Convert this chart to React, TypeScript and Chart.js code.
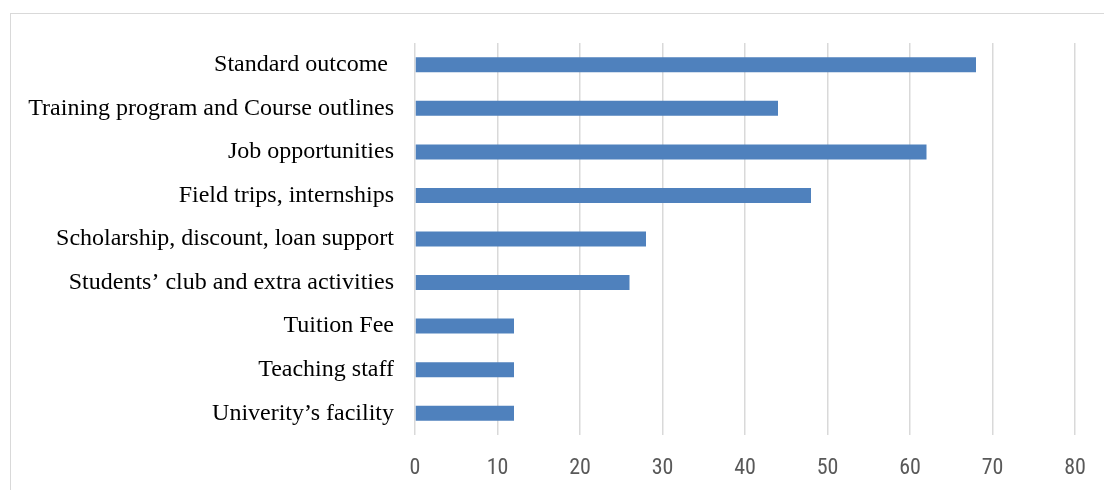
import React, { useEffect, useRef } from "react";
import { Chart, registerables } from "chart.js";

Chart.register(...registerables);

const categories = [
  "Standard outcome ",
  "Training program and Course outlines",
  "Job opportunities",
  "Field trips, internships",
  "Scholarship, discount, loan support",
  "Students’ club and extra activities",
  "Tuition Fee",
  "Teaching staff",
  "Univerity’s facility",
];
const values = [68, 44, 62, 48, 28, 26, 12, 12, 12];
const xMin = 0;
const xMax = 80;
const xStep = 10;

export default function App() {
  const ref = useRef<HTMLCanvasElement | null>(null);
  useEffect(() => {
    if (!ref.current) return;
    const chart = new Chart(ref.current, {
      type: "bar",
      data: {
        labels: categories,
        datasets: [
          {
            data: values,
            backgroundColor: "#4F81BD",
            borderWidth: 0,
            barPercentage: 0.69,
            categoryPercentage: 0.5,
          },
        ],
      },
      options: {
        indexAxis: "y",
        animation: false,
        responsive: false,
        maintainAspectRatio: false,
        layout: { padding: { left: 0, top: 43, right: 29, bottom: 0 } },
        plugins: { legend: { display: false }, tooltip: { enabled: false } },
        scales: {
          x: {
            min: xMin,
            max: xMax,
            ticks: {
              stepSize: xStep,
              color: "#595959",
              padding: 20,
              font: { family: "'Liberation Sans Narrow', 'Roboto Condensed', Roboto, sans-serif", size: 22 },
            },
            grid: { color: "#D9D9D9", lineWidth: 1.5, drawTicks: false },
            border: { display: false },
            afterFit: (s: any) => {
              s.height = 55;
              s.paddingLeft = 0;
              s.paddingRight = 0;
            },
          },
          y: {
            ticks: {
              color: "#000000",
              padding: 21,
              font: { family: "'Liberation Serif', 'Times New Roman', serif", size: 24 },
            },
            grid: { display: false, drawTicks: false },
            border: { display: false },
            afterFit: (s: any) => {
              s.width = 415;
            },
          },
        },
      },
    });
    return () => chart.destroy();
  }, []);
  return (
    <div style={{ position: "fixed", left: 0, top: 0, width: 1104, height: 490, background: "#fff" }}>
      <div
        style={{
          position: "absolute",
          left: 10,
          top: 13,
          width: 1110,
          height: 490,
          borderLeft: "1.5px solid #D9D9D9",
          borderTop: "1.5px solid #D9D9D9",
        }}
      />
      <canvas ref={ref} width={1104} height={490} style={{ position: "absolute", left: 0, top: 0 }} />
    </div>
  );
}
